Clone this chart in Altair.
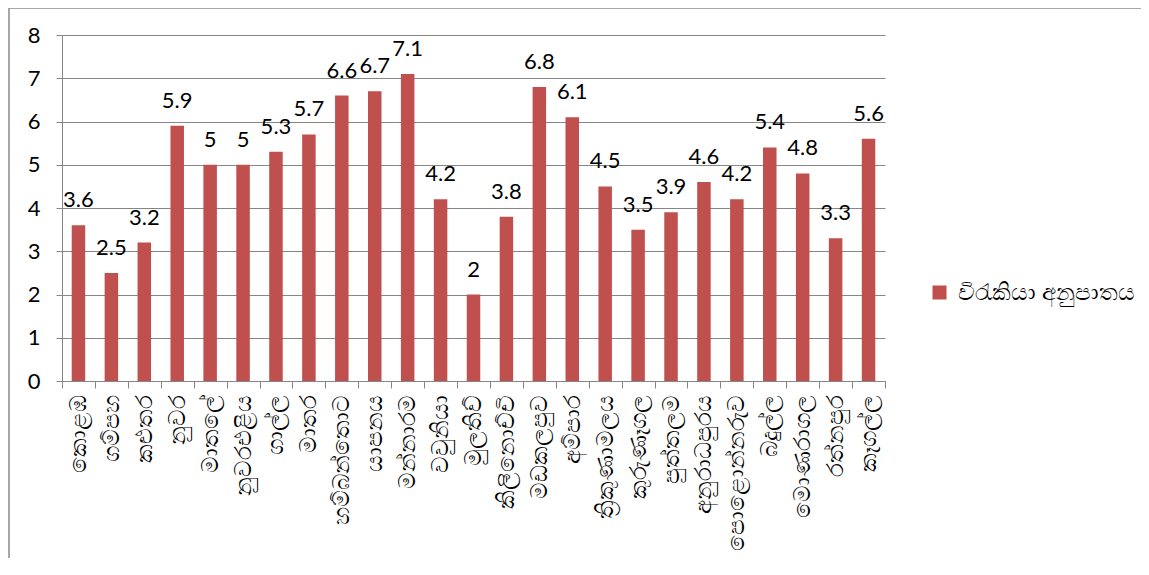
import altair as alt
import pandas as pd

districts = ["කොළඹ", "ගම්පහ", "කළුතර", "නුවර", "මාතලේ", "නුවරඑළිය", "ගාල්ල", "මාතර",
             "හම්බන්තොට", "යාපනය", "මන්නාරම", "වවුනියා", "මුලතිව්", "කිලිනොච්චි", "මඩකලපුව",
             "අම්පාර", "ත්‍රිකුණාමලය", "කුරුණෑගල", "පුත්තලම", "අනුරාධපුරය", "පොළොන්නරුව",
             "බදුල්ල", "මොණරාගල", "රත්නපුර", "කෑගල්ල"]
rates = [3.6, 2.5, 3.2, 5.9, 5, 5, 5.3, 5.7, 6.6, 6.7, 7.1, 4.2, 2, 3.8, 6.8,
         6.1, 4.5, 3.5, 3.9, 4.6, 4.2, 5.4, 4.8, 3.3, 5.6]
series_name = "විරැකියා අනුපාතය"
y_ticks = [0, 1, 2, 3, 4, 5, 6, 7, 8]

df = pd.DataFrame({"district": districts, "rate": rates, "series": series_name})
df["label"] = df["rate"].map(lambda v: f"{v:g}")

W, H = 823, 346
FONT = "Lato"
GRAY = "#868686"
BAR = "#C0504D"

x_enc = alt.X("district:N", sort=districts, title=None,
              scale=alt.Scale(paddingInner=0, paddingOuter=0),
              axis=alt.Axis(labelAngle=-90, labelFontSize=23, labelFont=FONT,
                            labelColor="#000000", tickBand="extent", tickSize=7,
                            tickColor=GRAY, domainColor=GRAY, labelPadding=6,
                            labelLimit=300))

bars = alt.Chart(df).mark_bar(size=13.5).encode(
    x=x_enc,
    y=alt.Y("rate:Q", title=None,
            scale=alt.Scale(domain=[0, 8], nice=False),
            axis=alt.Axis(values=y_ticks, labelFontSize=22, labelFont=FONT,
                          labelColor="#000000", gridColor=GRAY, tickColor=GRAY,
                          domainColor=GRAY, tickSize=6, labelPadding=16)),
    color=alt.Color("series:N", title=None,
                    scale=alt.Scale(range=[BAR]),
                    legend=alt.Legend(orient="none", legendX=866, legendY=246,
                                      symbolType="square", symbolSize=196,
                                      symbolStrokeWidth=0, labelFontSize=23,
                                      labelFont=FONT, labelColor="#000000",
                                      labelOffset=7, padding=0, labelLimit=300)),
)

labels = alt.Chart(df).mark_text(fontSize=22, font=FONT, baseline="alphabetic",
                                 dy=-18, color="#000000").encode(
    x=alt.X("district:N", sort=districts),
    y="rate:Q",
    text="label:N",
)

border = alt.Chart(pd.DataFrame({"k": [0]})).mark_rect(
    fill=None, stroke="#8c8c8c", strokeWidth=1.5).encode(
    x=alt.value(-53), x2=alt.value(W + 400),
    y=alt.value(-27), y2=alt.value(H + 400),
)

chart = alt.layer(border, bars, labels).properties(
    width=W, height=H,
    autosize=alt.AutoSizeParams(type="none"),
    padding={"left": 54, "top": 27, "right": 256, "bottom": 177},
).configure_view(stroke=None).configure_axis(grid=True).configure_axisX(grid=False)

chart.save("out.html", embed_options={"renderer": "svg", "actions": False})
